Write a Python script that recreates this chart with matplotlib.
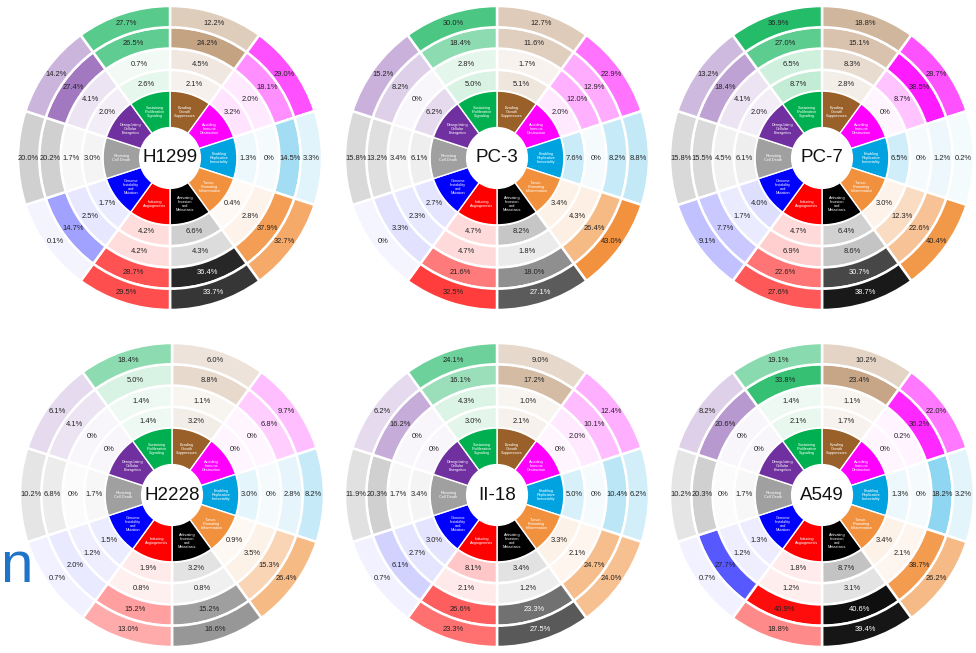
import matplotlib
matplotlib.use("Agg")
import matplotlib.pyplot as plt
from matplotlib.colors import to_rgba
import numpy as np

plt.rcParams['font.family'] = ['Liberation Sans', 'DejaVu Sans']

# hallmark categories, clockwise from 12 o'clock
hallmarks = ["Evading\nGrowth\nSuppressors", "Avoiding\nImmune\nDestruction",
             "Enabling\nReplicative\nImmortality", "Tumor-\nPromoting\nInflammation",
             "Activating\nInvasion\nand\nMetastasis", "Inducing\nAngiogenesis",
             "Genome\nInstability\nand\nMutation", "Resisting\nCell Death",
             "Deregulating\nCellular\nEnergetics", "Sustaining\nProliferative\nSignaling"]
hallmark_colors = ["#9A6029", "#FF00FF", "#00A3E0", "#F2913D", "#000000",
                   "#FF0000", "#0000FF", "#A0A0A0", "#7030A0", "#00B050"]

# percentages per ring (inner -> outer), same category order as above
h1299 = [[2.1, 3.2, 1.3, 0.4, 6.6, 4.2, 1.7, 3.0, 2.0, 2.6],
         [4.5, 2.0, 0, 2.8, 4.3, 4.2, 2.5, 1.7, 4.1, 0.7],
         [24.2, 18.1, 14.5, 37.9, 36.4, 28.7, 14.7, 20.2, 27.4, 26.5],
         [12.2, 29.0, 3.3, 32.7, 33.7, 29.5, 0.1, 20.0, 14.2, 27.7]]
pc3 = [[5.1, 2.0, 7.6, 3.4, 8.2, 4.7, 2.7, 6.1, 6.2, 5.0],
       [1.7, 12.0, 0, 4.3, 1.8, 4.7, 2.3, 3.4, 0, 2.8],
       [11.6, 12.9, 8.2, 26.4, 18.0, 21.6, 3.3, 13.2, 8.2, 18.4],
       [12.7, 22.9, 8.8, 43.0, 27.1, 32.5, 0, 15.8, 15.2, 30.0]]
pc7 = [[2.8, 0, 6.5, 3.0, 6.4, 4.7, 4.0, 6.1, 2.0, 8.7],
       [8.3, 8.7, 0, 12.3, 8.6, 6.9, 1.7, 4.5, 4.1, 6.5],
       [15.1, 38.5, 1.2, 22.6, 30.7, 22.6, 7.7, 15.5, 18.4, 27.0],
       [18.8, 28.7, 0.2, 40.4, 38.7, 27.6, 9.1, 15.8, 13.2, 36.9]]
h2228 = [[3.2, 0, 3.0, 0.9, 3.2, 1.9, 1.5, 1.7, 0, 1.4],
         [1.1, 0, 0, 3.5, 0.8, 0.8, 1.2, 0, 0, 1.4],
         [8.8, 6.8, 2.8, 15.3, 15.2, 15.2, 2.0, 6.8, 4.1, 5.0],
         [6.0, 9.7, 8.2, 26.4, 16.6, 13.0, 0.7, 10.2, 6.1, 18.4]]
ii18 = [[2.1, 0, 5.0, 3.3, 3.4, 8.1, 3.0, 3.4, 0, 3.0],
        [1.0, 2.0, 0, 2.1, 1.2, 2.1, 2.7, 1.7, 0, 4.3],
        [17.2, 10.1, 10.4, 24.7, 23.3, 26.6, 6.1, 20.3, 16.2, 16.1],
        [9.0, 12.4, 6.2, 24.0, 27.5, 23.3, 0.7, 11.9, 6.2, 24.1]]
a549 = [[1.7, 0, 1.3, 3.4, 8.7, 1.8, 1.3, 1.7, 0, 2.1],
        [1.1, 0.2, 0, 2.1, 3.1, 1.2, 1.2, 0, 0, 1.4],
        [23.4, 36.2, 18.2, 38.7, 40.6, 40.9, 27.7, 20.3, 20.6, 33.8],
        [10.2, 22.0, 3.2, 26.2, 39.4, 18.8, 0.7, 10.2, 8.2, 19.1]]

cell_lines = ["H1299", "PC-3", "PC-7", "H2228", "II-18", "A549"]
panel_data = [h1299, pc3, pc7, h2228, ii18, a549]

W, H = 976, 653
fig = plt.figure(figsize=(W / 100, H / 100), dpi=100)
centers = [(170, 158), (497, 158), (822, 158), (172, 495), (497, 495), (822, 495)]
R = 152

ring_edges = [0.44, 0.58, 0.72, 0.86, 1.0]


def fmt(v):
    return "0%" if v == 0 else f"{v:.1f}%"


for (cx, cy), name, data in zip(centers, cell_lines, panel_data):
    ax = fig.add_axes([(cx - R) / W, 1 - (cy + R) / H, 2 * R / W, 2 * R / H])
    ax.axis('off')
    n = len(hallmarks)
    mids = np.deg2rad(90 - (np.arange(n) + 0.5) * 360 / n)

    # outer value rings, shade follows the percentage
    for k, ring in enumerate(data):
        r_in, r_out = ring_edges[k], ring_edges[k + 1]
        alphas = [min(0.04 + v / 45.0, 1.0) for v in ring]
        cols = [to_rgba(c, a) for c, a in zip(hallmark_colors, alphas)]
        ax.pie([1] * n, radius=r_out, colors=cols, startangle=90, counterclock=False,
               wedgeprops=dict(width=r_out - r_in, edgecolor='white', linewidth=1.8))
        rm = (r_in + r_out) / 2
        for v, a, c, t in zip(ring, alphas, hallmark_colors, mids):
            tc = 'white' if (c == "#000000" and a > 0.45) else '#222222'
            ax.text(rm * np.cos(t), rm * np.sin(t), fmt(v), ha='center', va='center',
                    fontsize=5.4, color=tc)

    # hallmark ring
    ax.pie([1] * n, radius=0.44, colors=hallmark_colors, startangle=90, counterclock=False,
           wedgeprops=dict(width=0.24, edgecolor='white', linewidth=1.0))
    for lab, t in zip(hallmarks, mids):
        ax.text(0.32 * np.cos(t), 0.32 * np.sin(t), lab, ha='center', va='center',
                fontsize=2.8, color='white', linespacing=1.0)
    ax.text(0, 0, name, ha='center', va='center', fontsize=13.5, color='#111111')
    ax.set_xlim(-1.0, 1.0)
    ax.set_ylim(-1.0, 1.0)

# stray letter on the left margin
fig.text(0.0, 1 - 582 / H, "n", fontsize=42, color='#1E74C6', ha='left', va='baseline')

fig.savefig("out.png", dpi=100)
